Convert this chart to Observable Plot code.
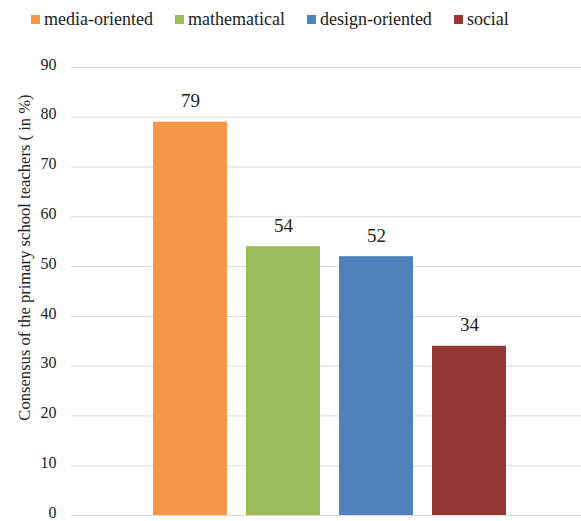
<!DOCTYPE html>
<html>
<head>
<meta charset="utf-8">
<script src="https://cdn.jsdelivr.net/npm/d3@7"></script>
<script src="https://cdn.jsdelivr.net/npm/@observablehq/plot@0.6"></script>
<style>
  body { margin: 0; background: #fff; font-family: "Liberation Serif", serif; }
  #legend { height: 39px; display: flex; align-items: center; padding-left: 31px; font-size: 18px; color: #222; }
  .item { display: flex; align-items: center; margin-right: 22px; }
  .sw { width: 9px; height: 9px; margin-right: 4px; }
</style>
</head>
<body>
<div id="legend"></div>
<div id="chart"></div>
<script>
const categories = ["media-oriented", "mathematical", "design-oriented", "social"];
const values = [79, 54, 52, 34];
const colors = ["#F79646", "#9BBB59", "#4F81BD", "#953735"];
const yTicks = [0, 10, 20, 30, 40, 50, 60, 70, 80, 90];
const yLabel = "Consensus of the primary school teachers ( in %)";

const data = categories.map((c, i) => ({category: c, value: values[i]}));

const legend = document.getElementById("legend");
categories.forEach((c, i) => {
  const it = document.createElement("div");
  it.className = "item";
  const sw = document.createElement("div");
  sw.className = "sw";
  sw.style.background = colors[i];
  const tx = document.createElement("span");
  tx.textContent = c;
  it.appendChild(sw); it.appendChild(tx);
  legend.appendChild(it);
});

const chart = Plot.plot({
  width: 581,
  height: 482,
  marginLeft: 71,
  marginRight: 0,
  marginTop: 28,
  marginBottom: 6,
  style: {fontFamily: "Liberation Serif, serif", fontSize: "16px", color: "#222"},
  x: {domain: categories, range: [142.35, 515.65], paddingInner: 0.207, paddingOuter: 0.1035, axis: null},
  y: {domain: [0, 90], ticks: yTicks},
  color: {domain: categories, range: colors},
  marks: [
    Plot.ruleY(yTicks, {stroke: "#d9d9d9", strokeWidth: 1}),
    Plot.barY(data, {x: "category", y: "value", fill: "category"}),
    Plot.text(data, {x: "category", y: "value", text: d => String(d.value), dy: -21, fontSize: 19, fill: "#222"}),
    Plot.axisY({ticks: yTicks, tickSize: 0, tickPadding: 15, label: null, fontSize: 16, dy: -3}),
    Plot.text([yLabel], {text: d => d, frameAnchor: "left", textAnchor: "middle", rotate: -90, dx: -47, dy: -34, fontSize: 16.6, fill: "#222"})
  ]
});
document.getElementById("chart").appendChild(chart);
</script>
</body>
</html>
